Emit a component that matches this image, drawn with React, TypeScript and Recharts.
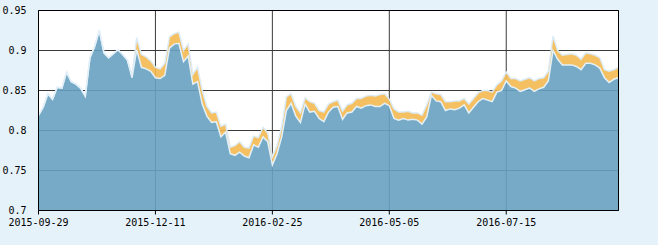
import {
  ComposedChart,
  Area,
  Line,
  XAxis,
  YAxis,
  CartesianGrid,
  ReferenceLine,
} from 'recharts'

// x tick positions (point index) and their date labels
const tickIndex = [0, 25, 50, 75, 100]
const tickLabels = ['2015-09-29', '2015-12-11', '2016-02-25', '2016-05-05', '2016-07-15']

const yTicks = [0.7, 0.75, 0.8, 0.85, 0.9, 0.95]
const yTickLabels = ['0.7', '0.75', '0.8', '0.85', '0.9', '0.95']

// lower (blue) series
const blueValues = [
  0.819, 0.829, 0.846, 0.839, 0.854, 0.853, 0.873, 0.861, 0.858, 0.853,
  0.843, 0.891, 0.905, 0.925, 0.897, 0.891, 0.896, 0.901, 0.895, 0.888,
  0.866, 0.901, 0.879, 0.877, 0.874, 0.866, 0.865, 0.869, 0.903, 0.908,
  0.909, 0.886, 0.893, 0.858, 0.861, 0.833, 0.818, 0.81, 0.811, 0.792,
  0.798, 0.771, 0.769, 0.773, 0.768, 0.766, 0.782, 0.779, 0.792, 0.786,
  0.757, 0.771, 0.792, 0.825, 0.834, 0.818, 0.81, 0.833, 0.823, 0.824,
  0.815, 0.811, 0.823, 0.829, 0.83, 0.814, 0.822, 0.823, 0.83, 0.828,
  0.831, 0.832, 0.83, 0.83, 0.834, 0.831, 0.815, 0.813, 0.815, 0.813,
  0.814, 0.813, 0.808, 0.817, 0.844, 0.837, 0.836, 0.825, 0.827, 0.826,
  0.828, 0.832, 0.822, 0.829, 0.836, 0.84, 0.838, 0.836, 0.848, 0.85,
  0.862, 0.855, 0.853, 0.849, 0.851, 0.853, 0.849, 0.852, 0.854, 0.862,
  0.9, 0.889, 0.882, 0.882, 0.882, 0.88, 0.876, 0.884, 0.884, 0.882,
  0.878, 0.866, 0.86, 0.864, 0.866,
]

// upper (orange) series, stacked on top of blue
const orangeValues = [
  0, 0, 0, 0, 0, 0, 0, 0, 0, 0,
  0, 0, 0, 0, 0, 0, 0, 0, 0, 0,
  0.003, 0.015, 0.016, 0.015, 0.013, 0.013, 0.012, 0.015, 0.014, 0.013,
  0.014, 0.014, 0.015, 0.012, 0.018, 0.017, 0.012, 0.012, 0.012, 0.013,
  0.01, 0.008, 0.012, 0.013, 0.011, 0.012, 0.011, 0.012, 0.012, 0.011,
  0.01, 0.01, 0.013, 0.017, 0.012, 0.012, 0.012, 0.008, 0.013, 0.01,
  0.01, 0.012, 0.01, 0.007, 0.008, 0.01, 0.01, 0.011, 0.01, 0.012,
  0.012, 0.012, 0.013, 0.015, 0.012, 0.008, 0.012, 0.01, 0.008, 0.011,
  0.008, 0.009, 0.011, 0.015, 0.004, 0.009, 0.009, 0.011, 0.009, 0.011,
  0.009, 0.008, 0.011, 0.011, 0.011, 0.01, 0.012, 0.012, 0.009, 0.012,
  0.011, 0.01, 0.012, 0.013, 0.013, 0.013, 0.013, 0.013, 0.012, 0.012,
  0.018, 0.011, 0.012, 0.013, 0.014, 0.014, 0.013, 0.013, 0.012, 0.012,
  0.013, 0.01, 0.014, 0.012, 0.013,
]

const data = blueValues.map((v, i) => ({ i, blue: v, orange: orangeValues[i] }))

const tickStyle = { fill: '#000', fontSize: 10, fontFamily: 'DejaVu Sans Mono' }

export default function App() {
  return (
    <div
      style={{
        position: 'fixed',
        left: 0,
        top: 0,
        width: 658,
        height: 245,
        background: '#e6f2fa',
      }}
    >
      <ComposedChart
        width={658}
        height={245}
        data={data}
        margin={{ top: 10.5, right: 39.5, bottom: 0, left: 0 }}
      >
        <CartesianGrid stroke="#3a3a3a" fill="#fff" />
        <XAxis
          type="number"
          dataKey="i"
          domain={[0, blueValues.length - 1]}
          ticks={tickIndex}
          interval={0}
          tickFormatter={(_: number, idx: number) => tickLabels[idx]}
          height={34.5}
          tickSize={4}
          tickMargin={4}
          tick={tickStyle}
          stroke="#000"
        />
        <YAxis
          type="number"
          domain={[0.7, 0.95]}
          ticks={yTicks}
          allowDataOverflow
          tickFormatter={(_: number, idx: number) => yTickLabels[idx]}
          width={38.5}
          tickLine={false}
          tickMargin={6}
          tick={tickStyle}
          stroke="#000"
        />
        <Area
          dataKey="blue"
          stackId="1"
          fill="#67a1c0"
          fillOpacity={0.9}
          stroke="none"
          isAnimationActive={false}
        />
        <Area
          dataKey="orange"
          stackId="1"
          fill="#f4b950"
          fillOpacity={0.9}
          stroke="#dcebf5"
          strokeWidth={1.5}
          isAnimationActive={false}
        />
        <Line
          dataKey="blue"
          dot={false}
          stroke="#e4f0f8"
          strokeWidth={1.5}
          isAnimationActive={false}
        />
        <ReferenceLine y={0.95} stroke="#000" />
        <ReferenceLine x={blueValues.length - 1} stroke="#000" />
      </ComposedChart>
    </div>
  )
}
